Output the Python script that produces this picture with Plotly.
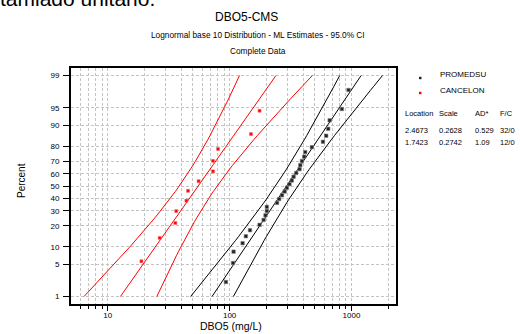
import math
from statistics import NormalDist
import plotly.graph_objects as go

# ---- data ----
promedsu_x = [93.3, 106.6, 107.8, 127.8, 136, 147, 176, 190, 197, 202, 202, 245,
              255, 269, 283, 295, 310, 324, 335, 352, 375, 380, 392, 409, 417,
              473, 583, 620, 644, 662, 834, 945]
cancelon_x = [18.9, 26.7, 35.9, 36.5, 44.2, 45.6, 55.7, 73.1, 73.1, 80.4, 149.7, 176]

series_names = ["PROMEDSU", "CANCELON"]
locations = [2.4673, 1.7423]
scales = [0.2628, 0.2742]
ad_stats = ["0.529", "1.09"]
fc_labels = ["32/0", "12/0"]

percent_ticks = [1, 5, 10, 20, 30, 40, 50, 60, 70, 80, 90, 95, 99]
x_major_ticks = [10, 100, 1000]
x_minor_ticks = [6, 7, 8, 9, 20, 30, 40, 50, 60, 70, 80, 90,
                 200, 300, 400, 500, 600, 700, 800, 900, 2000]

nd = NormalDist()

def plot_positions(n):
    return [nd.inv_cdf((i - 0.3) / (n + 0.4)) for i in range(1, n + 1)]

def fit_lines(loc, sc, n, npts=60):
    zlo, zhi = nd.inv_cdf(0.01), nd.inv_cdf(0.99)
    zs = [zlo + (zhi - zlo) * k / (npts - 1) for k in range(npts)]
    c, lo, hi = [], [], []
    for z in zs:
        m = loc + z * sc
        se = sc * math.sqrt(1.0 / n + z * z / (2.0 * n))
        c.append(10 ** m)
        lo.append(10 ** (m - 1.959964 * se))
        hi.append(10 ** (m + 1.959964 * se))
    return zs, c, lo, hi

fig = go.Figure()
colors = ["black", "#ff0000"]
data_sets = [promedsu_x, cancelon_x]

for name, xs, loc, sc, col in zip(series_names, data_sets, locations, scales, colors):
    n = len(xs)
    zs, c, lo, hi = fit_lines(loc, sc, n)
    for arr in (c, lo, hi):
        fig.add_trace(go.Scatter(x=arr, y=zs, mode="lines",
                                 line=dict(color=col, width=1), showlegend=False,
                                 hoverinfo="skip"))
    fig.add_trace(go.Scatter(x=sorted(xs), y=plot_positions(n), mode="markers",
                             marker=dict(symbol="square", size=3.5 if col == "black" else 3,
                                         color="#222222" if col == "black" else col,
                                         line=dict(width=0.6, color="#888888" if col == "black" else "#ff6666")),
                             name=name, showlegend=False))

# plot area in pixels
L, R, T, B = 71, 396, 68, 304
W, H = 520, 334

def px(x):
    return (x - L) / (R - L)

def py(y):
    return (B - y) / (B - T)

GRID = "#c4c4c4"
DASH = "3px,2px"
zr = 2.485
fig.update_layout(
    width=W, height=H,
    margin=dict(l=L, r=W - R, t=T, b=H - B),
    paper_bgcolor="white", plot_bgcolor="white",
    font=dict(family="Liberation Sans, Arial, sans-serif", color="black", size=8),
    xaxis=dict(type="log", range=[math.log10(5), math.log10(2317)],
               tickmode="array", tickvals=x_major_ticks,
               ticktext=[str(v) for v in x_major_ticks],
               ticks="outside", ticklen=5, tickcolor="black",
               ticklabelstandoff=-3,
               showgrid=True, gridcolor=GRID, griddash=DASH, gridwidth=1,
               minor=dict(tickmode="array", tickvals=x_minor_ticks, ticks="outside",
                          ticklen=3, tickcolor="black", showgrid=True,
                          gridcolor=GRID, griddash=DASH, gridwidth=1),
               showline=True, linecolor="black", linewidth=2, mirror=True,
               zeroline=False, tickfont=dict(size=8)),
    yaxis=dict(range=[-zr, zr], tickmode="array",
               tickvals=[nd.inv_cdf(p / 100) for p in percent_ticks],
               ticktext=[str(p) for p in percent_ticks],
               ticks="outside", ticklen=6, tickcolor="black",
               ticklabelstandoff=2,
               showgrid=True, gridcolor=GRID, griddash=DASH, gridwidth=1,
               showline=True, linecolor="black", linewidth=2, mirror=True,
               zeroline=False, tickfont=dict(size=8)),
)

ann = []
def text(x, y, s, size=8, xanchor="left", yanchor="middle", angle=0):
    ann.append(dict(x=px(x), y=py(y), xref="paper", yref="paper", text=s,
                    showarrow=False, xanchor=xanchor, yanchor=yanchor,
                    font=dict(size=size), textangle=angle))

text(-2, -1, "tamiado unitario.", size=21, yanchor="middle")
text(246, 17, "DBO5-CMS", size=12, xanchor="center")
text(257.5, 35, "Lognormal base 10 Distribution - ML Estimates - 95.0% CI", size=8.3, xanchor="center")
text(257.5, 51, "Complete Data", size=8.3, xanchor="center")
text(231, 326, "DBO5 (mg/L)", size=10.5, xanchor="center")
text(21, 181, "Percent", size=10, xanchor="center", angle=-90)

text(438, 74, series_names[0], size=8)
text(438, 90, series_names[1], size=8)
text(403, 113, "Location", size=7.5)
text(437, 113, "Scale", size=7.5)
text(473, 113, "AD*", size=7.5)
text(498, 113, "F/C", size=7.5)
for row_y, loc, sc, ad, fc in zip([130.5, 142.5], locations, scales, ad_stats, fc_labels):
    text(403, row_y, f"{loc:.4f}", size=7.5)
    text(437, row_y, f"{sc:.4f}", size=7.5)
    text(473, row_y, ad, size=7.5)
    text(498, row_y, fc, size=7.5)

fig.update_layout(annotations=ann)

# legend markers (paper-positioned shapes)
for yy, col in [(78, "#222222"), (93, "#ff0000")]:
    fig.add_shape(type="rect", xref="paper", yref="paper",
                  x0=px(419), x1=px(421.5), y0=py(yy + 1.2), y1=py(yy - 1.2),
                  fillcolor=col, line=dict(width=0))

fig.write_html("out.html", config={"displayModeBar": False},
               post_script="document.body.style.margin='0';document.body.style.overflow='hidden';")
